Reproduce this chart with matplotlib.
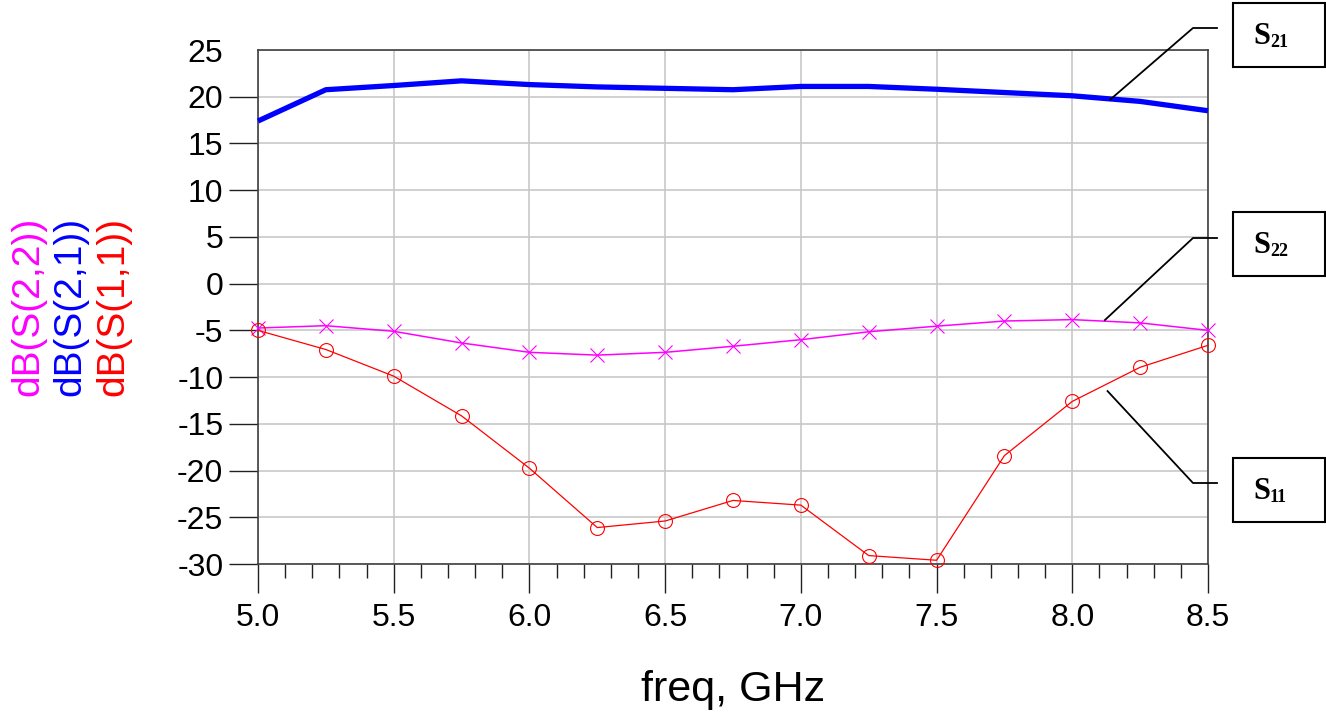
import matplotlib
matplotlib.use("Agg")
import matplotlib.pyplot as plt
from matplotlib.lines import Line2D
from matplotlib.patches import Rectangle
from matplotlib.ticker import MultipleLocator

plt.rcParams["font.family"] = ["Liberation Sans", "DejaVu Sans"]

freq = [5.0, 5.25, 5.5, 5.75, 6.0, 6.25, 6.5, 6.75,
        7.0, 7.25, 7.5, 7.75, 8.0, 8.25, 8.5]
s21 = [17.4, 20.75, 21.2, 21.7, 21.3, 21.05, 20.9, 20.75,
       21.1, 21.1, 20.8, 20.45, 20.1, 19.5, 18.5]
s22 = [-4.75, -4.5, -5.1, -6.35, -7.35, -7.65, -7.35, -6.7,
       -6.0, -5.15, -4.55, -4.0, -3.85, -4.2, -5.0]
s11 = [-5.0, -7.05, -9.9, -14.15, -19.75, -26.1, -25.4, -23.2,
       -23.7, -29.1, -29.6, -18.4, -12.6, -8.95, -6.6]
yticks = list(range(-30, 30, 5))

W, H = 1326, 717


def px(x, y):
    # image pixel (top-left origin) -> figure fraction
    return x / W, 1 - y / H


fig = plt.figure(figsize=(W / 100, H / 100), dpi=100)
l, t = px(258, 50)
r, b = px(1208, 564)
ax = fig.add_axes([l, b, r - l, t - b])

ax.plot(freq, s21, color="#0000ff", lw=3.8, solid_capstyle="butt",
        clip_on=False, zorder=3)
ax.plot(freq, s22, color="#ff00ff", lw=1.1, marker="x", ms=10,
        mew=0.8, clip_on=False, zorder=4)
ax.plot(freq, s11, color="#ff0000", lw=0.9, marker="o", ms=10,
        mfc="none", mew=0.8, clip_on=False, zorder=4)

ax.set_xlim(5.0, 8.5)
ax.set_ylim(-30, 25)
ax.xaxis.set_major_locator(MultipleLocator(0.5))
ax.xaxis.set_minor_locator(MultipleLocator(0.1))
ax.set_yticks(yticks)
ax.xaxis.set_major_formatter(lambda v, p: f"{v:.1f}")
ax.yaxis.set_major_formatter(lambda v, p: f"{v:g}")
ax.grid(True, which="major", color="#c8c8c8", lw=1.2)
ax.set_axisbelow(True)
for s in ax.spines.values():
    s.set_color("#404040")
    s.set_linewidth(1.2)
ax.tick_params(axis="x", which="major", length=21, width=1.0,
               labelsize=23, pad=7, color="#202020")
ax.tick_params(axis="x", which="minor", length=10, width=1.0,
               color="#202020")
ax.tick_params(axis="y", length=21, width=1.0, labelsize=23, pad=4,
               color="#202020")

fig.text(*px(733, 690), "freq, GHz", fontsize=31, ha="center", va="center")

ylabels = [("dB(S(2,2))", "#ff00ff", 28), ("dB(S(2,1))", "#0000ff", 70),
           ("dB(S(1,1))", "#ff0000", 113)]
for txt, col, xp in ylabels:
    fig.text(*px(xp, 306), txt, color=col, fontsize=28, rotation=90,
             ha="center", va="center")

# callout boxes with elbow leaders
serif = ["Liberation Serif", "DejaVu Serif"]
callouts = [
    ("21", 3, (1193, 28), (8.14, 19.7)),
    ("22", 212, (1193, 238), (8.12, -3.9)),
    ("11", 458, (1193, 483), (8.13, -11.5)),
]
for sub, top, elbow, target in callouts:
    x0, y1 = px(1233, top)
    x1, y0 = px(1325, top + 64)
    fig.patches.append(Rectangle((x0, y0), x1 - x0, y1 - y0, fill=False,
                                 lw=1.5, ec="black",
                                 transform=fig.transFigure))
    fig.text(*px(1253, top + 41), "S", fontsize=22, fontweight="bold",
             family=serif, ha="left", va="baseline")
    fig.text(*px(1270, top + 44), sub, fontsize=13, fontweight="bold",
             family=serif, ha="left", va="baseline")
    tx, ty = fig.transFigure.inverted().transform(
        ax.transData.transform(target))
    ex, ey = px(*elbow)
    sx, sy = px(1217, elbow[1])
    fig.lines.append(Line2D([sx, ex, tx], [sy, ey, ty], color="black",
                            lw=1.3, transform=fig.transFigure))

# no tick mark at the top value (25), like the original
fig.canvas.draw()
for tk in ax.yaxis.get_major_ticks():
    if abs(tk.get_loc() - 25) < 1e-9:
        tk.tick1line.set_visible(False)

fig.savefig("out.png", dpi=100)
